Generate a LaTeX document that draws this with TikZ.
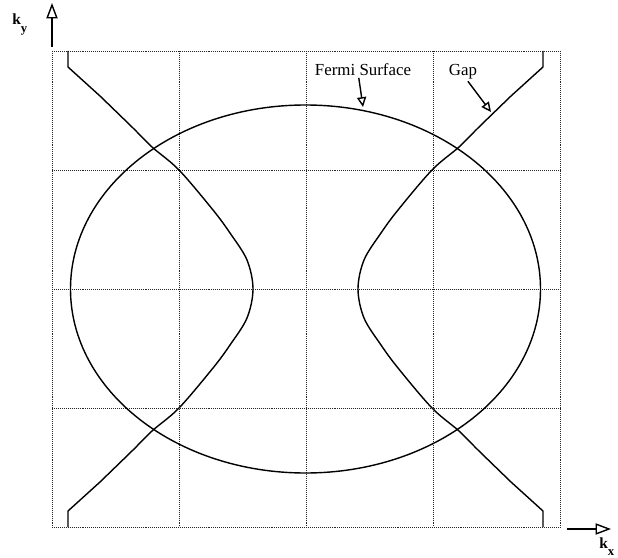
\documentclass[tikz,border=0pt]{standalone}
\usepackage{fontspec}
\setmainfont{Liberation Serif}
\usetikzlibrary{arrows.meta}

% 带下标的波矢标记
\newcommand{\kvec}[1]{k\raisebox{-5pt}{\fontsize{9}{10}\selectfont #1}}

\tikzset{
  gridline/.style={line width=0.5pt, dash pattern=on 0.6pt off 0.8pt, black!85},
  band/.style={line width=1pt, line join=round},
  axisarrow/.style={line width=1pt, -{Triangle[open, length=11pt, width=8pt, line width=1pt]}},
  labelarrow/.style={line width=1pt, -{Triangle[open, length=7pt, width=6.5pt, line width=1pt]}},
  lbl/.style={font=\fontsize{12}{14}\selectfont, inner sep=1pt},
  axlbl/.style={font=\fontsize{11}{13}\selectfont\bfseries, inner sep=0pt}
}

\begin{document}
\begin{tikzpicture}[x=0.025cm, y=-0.025cm]
  \useasboundingbox (0,0) rectangle (618,558);

  % 点线网格：4 x 4 格
  \foreach \gx in {52,179,306,433,560}
    \draw[gridline] (\gx,51) -- (\gx,527);
  \foreach \gy in {51,170,289,408,527}
    \draw[gridline] (52,\gy) -- (560,\gy);

  % 坐标轴箭头与标记
  \coordinate (ybase) at (52,47);
  \coordinate (ytip) at (52,3);
  \draw[axisarrow] (ybase) -- (ytip);
  \node[axlbl, anchor=base west] (ky) at (12,25) {\kvec{y}};

  \coordinate (xbase) at (567,529);
  \coordinate (xtip) at (611,529);
  \draw[axisarrow] (xbase) -- (xtip);
  \node[axlbl, anchor=base west] (kx) at (599,548) {\kvec{x}};

  % 费米面（近似椭圆）
  \draw[band] (305.5,289) ellipse [x radius=235, y radius=184];

  % 能隙线：左支与镜像右支
  \foreach \side/\dx in {1/0, -1/611}
    \draw[band, shift={(\dx,0)}, xscale=\side]
      (68,51) -- (68,67) -- plot[smooth, tension=0.55] coordinates {
        (100,96) (133,128) (152,147) (179,170) (213,210) (230,233) (247,260)
        (253,289)
        (247,318) (230,345) (213,368) (179,408) (152,431) (133,450) (100,482)}
      -- (68,511) -- (68,527);

  % 文字标注与指示箭头
  \node[lbl, anchor=base] (fermi) at (363,76) {Fermi Surface};
  \node[lbl, anchor=base] (gap) at (463,76) {Gap};
  \coordinate (fstip) at (363,107);
  \coordinate (gaptip) at (491,112);
  \draw[labelarrow] ([xshift=-3pt]fermi.south) -- (fstip);
  \draw[labelarrow] ([xshift=3.5pt]gap.south) -- (gaptip);

\end{tikzpicture}
\end{document}
